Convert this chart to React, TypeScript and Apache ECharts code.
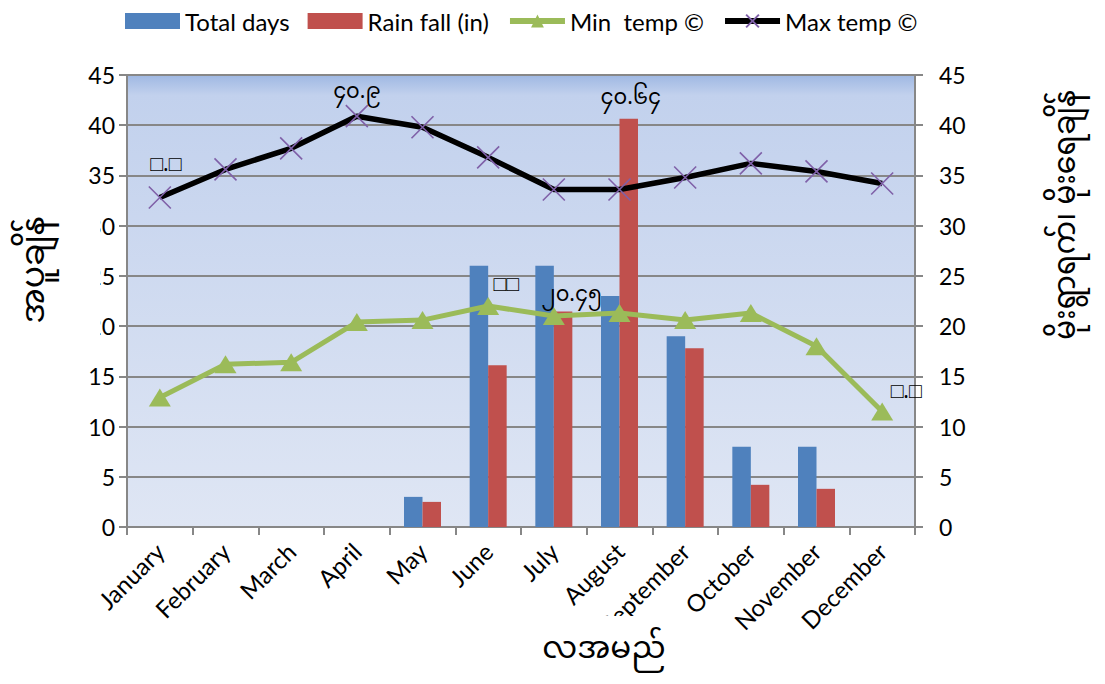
import React, { useEffect, useRef } from "react";
import * as echarts from "echarts";

const months = ["January", "February", "March", "April", "May", "June", "July", "August", "September", "October", "November", "December"];
const totalDays = [0, 0, 0, 0, 3, 26, 26, 23, 19, 8, 8, 0];
const rainFall = [0, 0, 0, 0, 2.5, 16.1, 21.45, 40.64, 17.8, 4.2, 3.8, 0];
const minTemp = [12.9, 16.2, 16.4, 20.4, 20.6, 22.0, 21.0, 21.3, 20.6, 21.3, 18.0, 11.5];
const maxTemp = [32.8, 35.6, 37.7, 40.9, 39.8, 36.8, 33.6, 33.6, 34.8, 36.2, 35.4, 34.2];
const yTicks = [0, 5, 10, 15, 20, 25, 30, 35, 40, 45];

const maxTempLabels = ["\u25A1.\u25A1", "", "", "၄၀.၉", "", "", "", "", "", "", "", ""];
const minTempLabels = ["", "", "", "", "", "\u25A1\u25A1", "၂၀.၄၅", "", "", "", "", "\u25A1.\u25A1"];
const rainLabels = ["", "", "", "", "", "", "", "၄၀.၆၄", "", "", "", ""];

const leftTitle = "အပူချိန်";
const rightTitle = "မိုးရွာရက်၊ မိုးရေချိန်";
const xTitle = "လအမည်";

const FONT = "Lato, 'Liberation Sans', sans-serif";
const MY_FONT = "'Noto Sans Myanmar', 'Padauk', 'Myanmar Text', 'Noto Sans', sans-serif";
const GRID = "#878787";

export default function App() {
  const ref = useRef<HTMLDivElement>(null);
  useEffect(() => {
    if (!ref.current) return;
    const chart = echarts.init(ref.current, null, { renderer: "svg" });
    const labelStyle = { color: "#000", fontSize: 21, fontFamily: MY_FONT };
    const makeData = (vals: number[], labels: string[], offsets: Record<number, number[]>) =>
      vals.map((v, i) =>
        labels[i]
          ? { value: v, label: { show: true, position: "top", formatter: labels[i], offset: offsets[i] || [0, 0], ...labelStyle } }
          : { value: v }
      );
    const yMin = yTicks[0];
    const yMax = yTicks[yTicks.length - 1];
    const yInt = yTicks[1] - yTicks[0];
    const yAxisCommon = {
      type: "value",
      min: yMin,
      max: yMax,
      interval: yInt,
      axisLine: { show: true, lineStyle: { color: GRID, width: 2 } },
      axisTick: { show: true, length: 8, lineStyle: { color: GRID, width: 2 } },
    };
    chart.setOption({
      animation: false,
      backgroundColor: "#fff",
      textStyle: { fontFamily: FONT },
      legend: {
        top: 4,
        left: 120,
        itemWidth: 55,
        itemHeight: 16,
        itemGap: 18,
        textStyle: { color: "#000", fontSize: 24, fontFamily: FONT },
        data: [
          { name: "Total days", icon: "rect" },
          { name: "Rain fall (in)", icon: "rect" },
          { name: "Min  temp ©", lineStyle: { width: 6, color: "#9bbb59" } },
          { name: "Max temp ©", lineStyle: { width: 6, color: "#000" } },
        ],
      },
      grid: {
        left: 127,
        right: 190,
        top: 75,
        bottom: 157,
        show: true,
        borderWidth: 0,
        backgroundColor: new echarts.graphic.LinearGradient(0, 0, 0, 1, [
          { offset: 0, color: "#9fb8e3" },
          { offset: 0.045, color: "#c2d1ed" },
          { offset: 1, color: "#dfe6f4" },
        ]),
      },
      xAxis: {
        type: "category",
        data: months,
        boundaryGap: true,
        axisLine: { show: true, lineStyle: { color: GRID, width: 2 } },
        axisTick: { show: true, length: 8, alignWithLabel: false, lineStyle: { color: GRID, width: 2 } },
        axisLabel: { color: "#000", fontSize: 24, fontFamily: FONT, rotate: 45, interval: 0, margin: 20 },
        splitLine: { show: false },
      },
      yAxis: [
        {
          ...yAxisCommon,
          position: "left",
          axisLabel: { color: "#000", fontSize: 23, fontFamily: FONT, margin: 12 },
          splitLine: { show: true, lineStyle: { color: GRID, width: 2 } },
        },
        {
          ...yAxisCommon,
          position: "right",
          axisLabel: { color: "#000", fontSize: 23, fontFamily: FONT, margin: 24 },
          splitLine: { show: false },
        },
      ],
      series: [
        {
          name: "Total days",
          type: "bar",
          barWidth: 18.5,
          barGap: "0%",
          itemStyle: { color: "#4f81bd" },
          data: totalDays,
        },
        {
          name: "Rain fall (in)",
          type: "bar",
          barWidth: 18.5,
          barGap: "0%",
          itemStyle: { color: "#c0504d" },
          data: makeData(rainFall, rainLabels, { 7: [2, -4] }),
        },
        {
          name: "Min  temp ©",
          type: "line",
          symbol: "triangle",
          symbolSize: [22, 18],
          lineStyle: { color: "#9bbb59", width: 5 },
          itemStyle: { color: "#9bbb59" },
          data: makeData(minTemp, minTempLabels, { 5: [18, 4], 6: [18, 4], 11: [24, 6] }),
          z: 3,
        },
        {
          name: "Max temp ©",
          type: "line",
          symbol: "path://M0,0L10,10M10,0L0,10",
          symbolSize: 22,
          lineStyle: { color: "#000", width: 5.5 },
          itemStyle: { color: "rgba(0,0,0,0)", borderColor: "#7f60a8", borderWidth: 1.6 },
          data: makeData(maxTemp, maxTempLabels, { 0: [6, -4], 3: [0, 4] }),
          z: 4,
        },
      ],
      graphic: [
        { type: "rect", shape: { x: 12, y: 205, width: 88, height: 138 }, style: { fill: "#fff" }, z: 100 },
        {
          type: "text",
          x: 36,
          y: 270,
          rotation: Math.PI / 2,
          style: { text: leftTitle, fontSize: 33, fontFamily: MY_FONT, fill: "#000", align: "center", verticalAlign: "middle" },
          z: 101,
        },
        {
          type: "text",
          x: 1068,
          y: 215,
          rotation: Math.PI / 2,
          style: { text: rightTitle, fontSize: 30, fontFamily: MY_FONT, fill: "#000", align: "center", verticalAlign: "middle" },
          z: 101,
        },
        { type: "rect", shape: { x: 538, y: 616, width: 132, height: 68 }, style: { fill: "#fff" }, z: 100 },
        {
          type: "text",
          x: 604,
          y: 651,
          style: { text: xTitle, fontSize: 31, fontFamily: MY_FONT, fill: "#000", align: "center", verticalAlign: "middle" },
          z: 101,
        },
      ],
    });
    return () => chart.dispose();
  }, []);
  return <div ref={ref} style={{ width: 1105, height: 684, position: "absolute", left: 0, top: 0 }} />;
}
